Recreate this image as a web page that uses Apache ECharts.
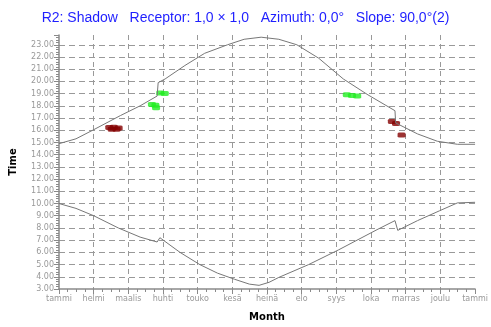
<!DOCTYPE html>
<html>
<head>
<meta charset="utf-8">
<script src="https://cdn.jsdelivr.net/npm/echarts@6/dist/echarts.min.js"></script>
<style>html,body{margin:0;padding:0;background:#fff;}#c{width:491px;height:327px;}</style>
</head>
<body>
<div id="c"></div>
<script>
var titleText = 'R2: Shadow   Receptor: 1,0 \u00d7 1,0   Azimuth: 0,0\u00b0   Slope: 90,0\u00b0(2)';
var monthLabels = ['tammi','helmi','maalis','huhti','touko','kes\u00e4','hein\u00e4','elo','syys','loka','marras','joulu','tammi'];
// x in months from 1 Jan (0..12), y in hours
var upperX = [0,0.49,0.97,1.77,2.34,2.83,2.86,3.06,3.63,4.2,4.86,5.34,5.83,6.34,6.86,7.49,8.2,8.91,9.69,9.71,10.34,10.91,11.49,12];
var upperY = [14.9,15.3,16.0,17.2,18.0,18.8,19.9,20.2,21.3,22.3,23.0,23.45,23.62,23.45,23.0,21.9,20.2,18.9,17.6,16.6,15.7,15.1,14.85,14.85];
var lowerX = [0,0.49,1.0,1.71,2.34,2.83,2.91,3.49,4.06,4.57,5.06,5.49,5.77,6.06,6.34,7.2,8.06,9.2,9.69,9.77,10.34,10.97,11.49,12];
var lowerY = [10.0,9.6,9.0,8.0,7.25,6.85,7.2,6.0,5.0,4.3,3.8,3.4,3.3,3.55,3.95,5.0,6.2,7.9,8.6,7.8,8.6,9.4,10.05,10.1];
var redX = [1.45,1.58,1.72,1.52,1.66,9.6,9.72,9.88];
var redY = [16.22,16.25,16.18,16.08,16.08,16.72,16.55,15.62];
var greenX = [2.68,2.78,2.8,2.92,3.05,8.3,8.45,8.6];
var greenY = [18.1,18.05,17.85,19.05,19.0,18.9,18.85,18.8];

function zip(a,b){return a.map(function(v,i){return [v,b[i]];});}

var chart = echarts.init(document.getElementById('c'));
var gray = '#8a8a8a';
chart.setOption({
  animation:false,
  backgroundColor:'#fff',
  title:{text:titleText,left:'center',top:6,textStyle:{color:'#1f1fff',fontSize:14,fontWeight:'normal',fontFamily:'Liberation Sans'}},
  grid:{left:58,right:13,top:35,bottom:32},
  xAxis:{type:'value',min:0,max:12,interval:1,
    name:'Month',nameLocation:'middle',nameGap:23,
    nameTextStyle:{color:'#000',fontWeight:'bold',fontSize:10,fontFamily:'DejaVu Sans'},
    axisLine:{lineStyle:{color:gray,width:1.5}},
    axisTick:{length:5,lineStyle:{color:gray}},
    minorTick:{show:true,splitNumber:4,length:3,lineStyle:{color:gray}},
    axisLabel:{color:'#999',fontSize:8,fontFamily:'DejaVu Sans',margin:6,formatter:function(v){return monthLabels[Math.round(v)];}},
    splitLine:{show:true,showMinLine:false,showMaxLine:false,lineStyle:{color:'#999',type:[5,4],width:1}}
  },
  yAxis:{type:'value',min:3,max:23.8,interval:1,
    name:'Time',nameLocation:'middle',nameGap:41,nameRotate:90,
    nameTextStyle:{color:'#000',fontWeight:'bold',fontSize:10,fontFamily:'DejaVu Sans'},
    axisLine:{show:true,lineStyle:{color:gray,width:1.5}},
    axisTick:{show:true,length:5,lineStyle:{color:gray}},
    minorTick:{show:true,splitNumber:5,length:3,lineStyle:{color:gray}},
    axisLabel:{color:'#999',fontSize:8,fontFamily:'DejaVu Sans',margin:5,showMaxLabel:false,formatter:function(v){return v.toFixed(2);}},
    splitLine:{show:true,showMinLine:false,showMaxLine:false,lineStyle:{color:'#999',type:[6,4],width:1}}
  },
  series:[
    {type:'line',data:zip(upperX,upperY),showSymbol:false,silent:true,lineStyle:{color:'#777',width:1}},
    {type:'line',data:zip(lowerX,lowerY),showSymbol:false,silent:true,lineStyle:{color:'#777',width:1}},
    {type:'scatter',data:zip(redX,redY),symbol:'roundRect',symbolSize:[8,5],itemStyle:{color:'#850000'},silent:true},
    {type:'scatter',data:zip(greenX,greenY),symbol:'roundRect',symbolSize:[8,5],itemStyle:{color:'#22ee22'},silent:true}
  ]
});
</script>
</body>
</html>
